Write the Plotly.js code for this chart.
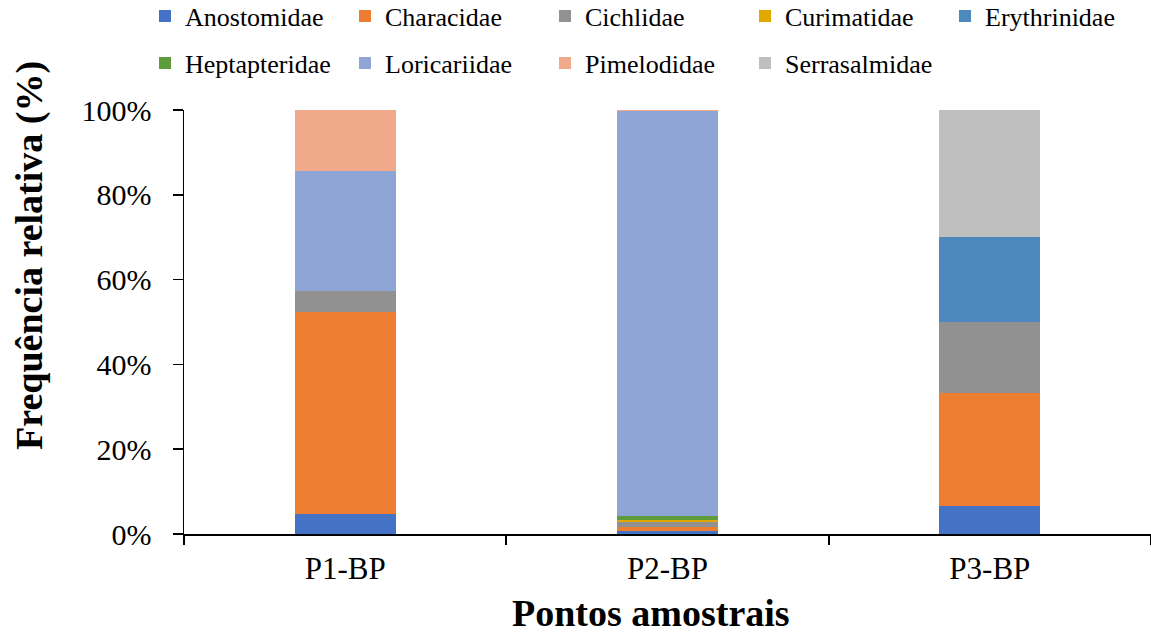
<!DOCTYPE html>
<html>
<head>
<meta charset="utf-8">
<script src="https://cdn.plot.ly/plotly-3.0.1.min.js"></script>
<style>html,body{margin:0;padding:0;background:#fff;}#chart{width:1151px;height:635px;}</style>
</head>
<body>
<div id="chart"></div>
<script>
const categories = ["P1-BP", "P2-BP", "P3-BP"];
const families = ["Anostomidae", "Characidae", "Cichlidae", "Curimatidae", "Erythrinidae",
                  "Heptapteridae", "Loricariidae", "Pimelodidae", "Serrasalmidae"];
// relative frequency (%) per sampling point
const anostomidae   = [4.8, 0.8, 6.7];
const characidae    = [47.6, 0.8, 26.6];
const cichlidae     = [4.8, 1.2, 16.7];
const curimatidae   = [0, 0.4, 0];
const erythrinidae  = [0, 0, 20.0];
const heptapteridae = [0, 1.1, 0];
const loricariidae  = [28.5, 95.4, 0];
const pimelodidae   = [14.3, 0.3, 0];
const serrasalmidae = [0, 0, 30.0];
const seriesValues = [anostomidae, characidae, cichlidae, curimatidae, erythrinidae,
                      heptapteridae, loricariidae, pimelodidae, serrasalmidae];
const colors = ["#4472C4", "#ED7D31", "#919191", "#E3A800", "#4E89BE",
                "#5E9B3A", "#8FA5D6", "#F1A98B", "#BFBFBF"];
const yTicks = [0, 20, 40, 60, 80, 100];
const yTickLabels = yTicks.map(v => v + "%");
const xTitle = "Pontos amostrais";
const yTitle = "Frequência relativa (%)";

const font = "Liberation Serif, Times New Roman, serif";
// legend rows: first row (4 + 1 entries), second row
const legendOf = i => (i < 4 ? "legend" : (i === 4 ? "legend3" : "legend2"));
const traces = families.map((name, i) => ({
  type: "bar",
  name: name,
  x: categories,
  y: seriesValues[i],
  marker: {color: colors[i], line: {width: 0}},
  legend: legendOf(i),
  hoverinfo: "name+y"
}));

const legendCommon = {
  orientation: "h", xref: "container", xanchor: "left", yref: "container", yanchor: "middle",
  font: {family: font, size: 26, color: "#000"}, entrywidth: 155, entrywidthmode: "pixels",
  traceorder: "normal", bgcolor: "rgba(0,0,0,0)", borderwidth: 0
};

const layout = {
  width: 1151, height: 635,
  margin: {l: 184, r: 0, t: 110, b: 101},
  paper_bgcolor: "#fff", plot_bgcolor: "#fff",
  barmode: "stack",
  bargap: 0.687,
  font: {family: font, color: "#000", size: 26},
  showlegend: true,
  legend: Object.assign({x: 145 / 1151, y: 1 - 16 / 635}, legendCommon),
  legend3: Object.assign({x: 945 / 1151, y: 1 - 16 / 635}, legendCommon),
  legend2: Object.assign({x: 145 / 1151, y: 1 - 63 / 635}, legendCommon),
  xaxis: {
    type: "category",
    tickson: "boundaries",
    ticks: "outside", ticklen: 9, tickwidth: 2, tickcolor: "#000",
    showline: true, linecolor: "#000", linewidth: 2,
    showgrid: false, zeroline: false,
    tickfont: {family: font, size: 31, color: "#000"},
    ticklabelstandoff: 6,
    automargin: false
  },
  yaxis: {
    range: [0, 100],
    tickvals: yTicks, ticktext: yTickLabels,
    ticks: "outside", ticklen: 10, tickwidth: 1.5, tickcolor: "#000",
    showline: true, linecolor: "#000", linewidth: 1.5,
    showgrid: false, zeroline: false,
    tickfont: {family: font, size: 30, color: "#000"},
    ticklabelstandoff: 15,
    automargin: false
  },
  annotations: [
    {text: xTitle, xref: "paper", yref: "paper", x: (651 - 184) / 967, y: (534 - 613) / 424,
     xanchor: "center", yanchor: "middle", showarrow: false,
     font: {family: font, size: 38, color: "#000", weight: "bold"}},
    {text: yTitle, xref: "paper", yref: "paper", x: (29 - 184) / 967, y: (534 - 256) / 424,
     xanchor: "center", yanchor: "middle", showarrow: false, textangle: -90,
     font: {family: font, size: 38, color: "#000", weight: "bold"}}
  ]
};

Plotly.newPlot("chart", traces, layout, {displayModeBar: false, staticPlot: true});
</script>
</body>
</html>
